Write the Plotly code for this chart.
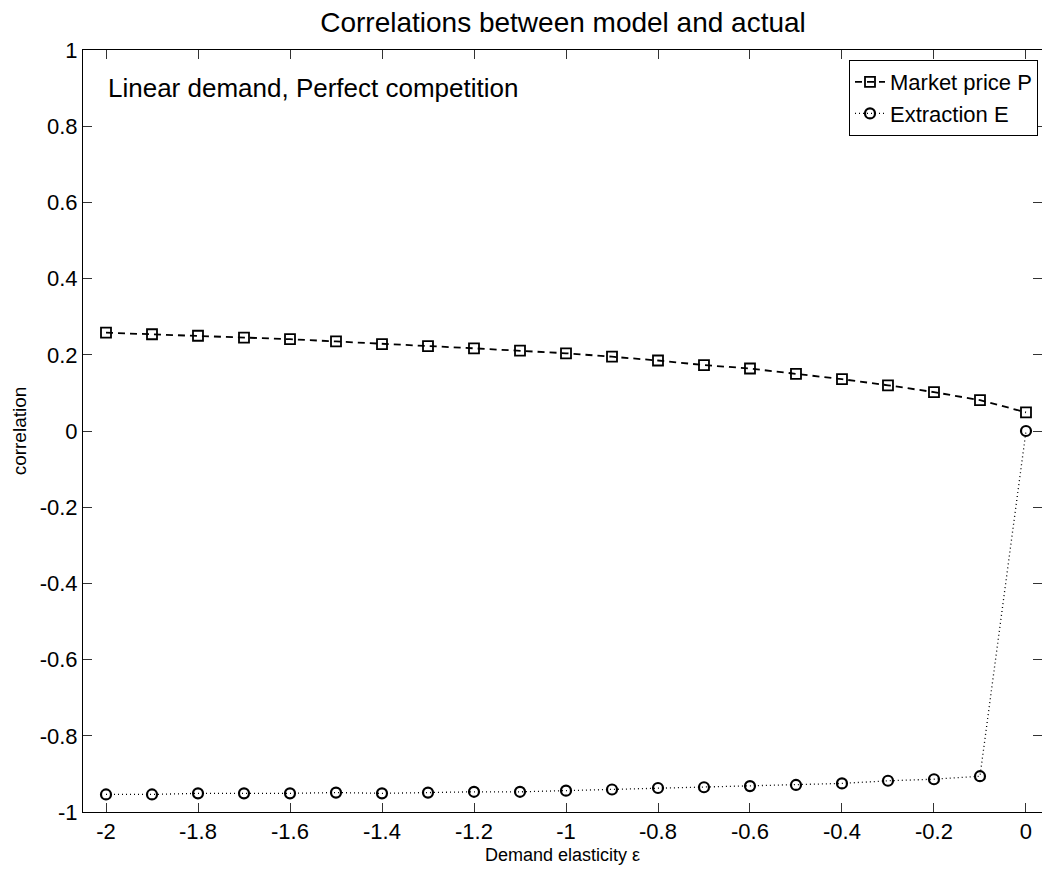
import plotly.graph_objects as go

elasticity = [-2.0, -1.9, -1.8, -1.7, -1.6, -1.5, -1.4, -1.3, -1.2, -1.1, -1.0,
              -0.9, -0.8, -0.7, -0.6, -0.5, -0.4, -0.3, -0.2, -0.1, 0.0]
market_price = [0.258, 0.254, 0.250, 0.245, 0.241, 0.235, 0.228, 0.223, 0.217, 0.211, 0.204,
                0.195, 0.185, 0.173, 0.164, 0.150, 0.136, 0.120, 0.102, 0.081, 0.049]
extraction = [-0.954, -0.954, -0.951, -0.951, -0.951, -0.949, -0.951, -0.949, -0.947, -0.947, -0.944,
              -0.941, -0.937, -0.935, -0.932, -0.929, -0.925, -0.918, -0.914, -0.906, 0.0]

x_tickvals = [-2, -1.8, -1.6, -1.4, -1.2, -1, -0.8, -0.6, -0.4, -0.2, 0]
x_ticktext = ["-2", "-1.8", "-1.6", "-1.4", "-1.2", "-1", "-0.8", "-0.6", "-0.4", "-0.2", "0"]
y_tickvals = [-1, -0.8, -0.6, -0.4, -0.2, 0, 0.2, 0.4, 0.6, 0.8, 1]
y_ticktext = ["-1", "-0.8", "-0.6", "-0.4", "-0.2", "0", "0.2", "0.4", "0.6", "0.8", "1"]

FONT = "Liberation Sans, Arial, sans-serif"

fig = go.Figure()
fig.add_trace(go.Scatter(
    x=elasticity, y=market_price, mode="lines+markers", name="Market price P",
    line=dict(color="black", width=1.8, dash="7px,5px"),
    marker=dict(symbol="square-open", size=10, color="black", line=dict(width=1.8)),
))
fig.add_trace(go.Scatter(
    x=elasticity, y=extraction, mode="lines+markers", name="Extraction E",
    line=dict(color="black", width=1.3, dash="1px,3px"),
    marker=dict(symbol="circle-open", size=10, color="black", line=dict(width=2.2)),
))

axis_common = dict(
    showgrid=False, zeroline=False, showline=True, linecolor="black", linewidth=1,
    mirror="ticks", ticks="inside", ticklen=9, tickcolor="#333", tickwidth=1,
    tickfont=dict(family=FONT, size=22, color="black"),
)

fig.update_layout(
    width=1042, height=878,
    margin=dict(l=83, r=0, t=50, b=66),
    paper_bgcolor="white", plot_bgcolor="white",
    title=dict(text="Correlations between model and actual", x=563 / 1042,
               xanchor="center", y=1 - 22 / 878, yanchor="middle",
               font=dict(family=FONT, size=28, color="black")),
    xaxis=dict(range=[-2.05, 0.0348], tickvals=x_tickvals, ticktext=x_ticktext,
               title=dict(text="Demand elasticity ε", font=dict(family=FONT, size=18, color="black"),
                          standoff=4),
               **axis_common),
    yaxis=dict(range=[-1, 1], tickvals=y_tickvals, ticktext=y_ticktext,
               title=dict(text="correlation", font=dict(family=FONT, size=19, color="black"),
                          standoff=8),
               **axis_common),
    legend=dict(x=(1038 - 83) / (1042 - 83), y=1 - 10 / 762, xanchor="right", yanchor="top",
                bgcolor="white", bordercolor="black", borderwidth=1,
                font=dict(family=FONT, size=22, color="black"),
                tracegroupgap=0, itemwidth=30),
    showlegend=True,
    annotations=[dict(text="Linear demand, Perfect competition", xref="x", yref="y",
                      x=-2.0, y=0.9, xanchor="left", yanchor="middle", showarrow=False,
                      font=dict(family=FONT, size=26, color="black"))],
)

fig.write_html("out.html")
